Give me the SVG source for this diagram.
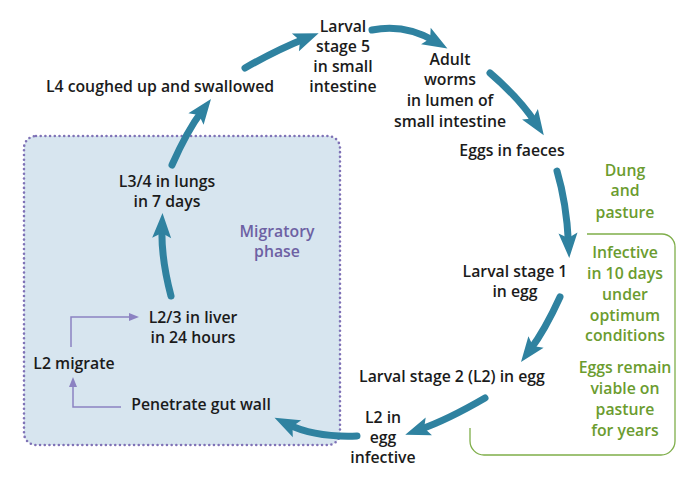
<svg xmlns="http://www.w3.org/2000/svg" width="700" height="478" viewBox="0 0 700 478">
<style>
text{font-family:"Open Sans","Liberation Sans",sans-serif;font-size:15.8px;font-weight:600;text-anchor:middle;fill:#1b1b1b}
.g{fill:#6b9c2f}
.p{fill:#6d61a3}
.big{fill:none;stroke:#2f82a0;stroke-width:7;stroke-linecap:round;marker-end:url(#ah)}
.thin{fill:none;stroke:#8c82c2;stroke-width:1.5;marker-end:url(#th)}
</style>
<defs>
<marker id="ah" markerUnits="userSpaceOnUse" markerWidth="30" markerHeight="24" viewBox="0 -12 26 24" refX="10" refY="0" orient="auto">
<path d="M0,-9.5 L25,0 L0,9.5 L5,0 Z" fill="#2f82a0"/>
</marker>
<marker id="th" markerUnits="userSpaceOnUse" markerWidth="12" markerHeight="10" viewBox="0 -5 11 10" refX="2" refY="0" orient="auto">
<path d="M0,-4 L10,0 L0,4 Z" fill="#8c82c2"/>
</marker>
</defs>
<g id="migratory-phase">
<rect x="24" y="136" width="316" height="309" rx="12" fill="#d7e5ef" stroke="#7f72b6" stroke-width="2.6" stroke-dasharray="0 4.7" stroke-linecap="round"/>
<text class="p" x="277" y="237">Migratory</text>
<text class="p" x="277" y="257">phase</text>
</g>
<g id="dung-pasture">
<path d="M587,234 H662 A13,13 0 0 1 675,247 V441 A14,14 0 0 1 661,455 H484 A14,14 0 0 1 470,441 V428" fill="none" stroke="#7fae4a" stroke-width="1.3"/>
<text class="g" x="625" y="176">Dung</text>
<text class="g" x="625" y="196">and</text>
<text class="g" x="625" y="218">pasture</text>
<text class="g" x="625" y="258">Infective</text>
<text class="g" x="625" y="279">in 10 days</text>
<text class="g" x="625" y="300">under</text>
<text class="g" x="625" y="321">optimum</text>
<text class="g" x="625" y="341">conditions</text>
<text class="g" x="625" y="373">Eggs remain</text>
<text class="g" x="625" y="394">viable on</text>
<text class="g" x="625" y="415">pasture</text>
<text class="g" x="625" y="436">for years</text>
</g>
<g id="n-l4"><text x="160" y="92">L4 coughed up and swallowed</text></g>
<g id="n-l5">
<text x="343" y="32">Larval</text>
<text x="343" y="52">stage 5</text>
<text x="343" y="72">in small</text>
<text x="343" y="92">intestine</text>
</g>
<g id="n-adult">
<text x="450" y="65">Adult</text>
<text x="450" y="85">worms</text>
<text x="450" y="106">in lumen of</text>
<text x="450" y="127">small intestine</text>
</g>
<g id="n-eggs"><text x="512" y="156">Eggs in faeces</text></g>
<g id="n-ls1">
<text x="515" y="277">Larval stage 1</text>
<text x="515" y="297">in egg</text>
</g>
<g id="n-ls2"><text x="452" y="382">Larval stage 2 (L2) in egg</text></g>
<g id="n-l2inf">
<text x="383" y="423">L2 in</text>
<text x="383" y="443">egg</text>
<text x="383" y="463">infective</text>
</g>
<g id="n-penetrate"><text x="201" y="410">Penetrate gut wall</text></g>
<g id="n-migrate"><text x="74" y="369">L2 migrate</text></g>
<g id="n-liver">
<text x="193" y="323">L2/3 in liver</text>
<text x="193" y="343">in 24 hours</text>
</g>
<g id="n-lungs">
<text x="167" y="187">L3/4 in lungs</text>
<text x="167" y="207">in 7 days</text>
</g>
<g id="connectors">
<path class="big" d="M245,68 Q276.8,49.8 304.7,38.7"/>
<path class="big" d="M372,30 Q404.7,23.5 434.5,41"/>
<path class="big" d="M490,73 Q519,97.8 535.5,122.7"/>
<path class="big" d="M557,171 Q566.5,203 568.5,243"/>
<path class="big" d="M560,297 Q545,330 530,350"/>
<path class="big" d="M485,398 Q447.6,419.8 419.4,429.7"/>
<path class="big" d="M357,436 Q315,437.6 288,424.4"/>
<path class="big" d="M171,296 Q161,258 162,228"/>
<path class="big" d="M172,165 Q187,131 202,111"/>
<path class="thin" d="M121,407 H73 V385"/>
<path class="thin" d="M71,347 V317 H131"/>
</g>
</svg>
